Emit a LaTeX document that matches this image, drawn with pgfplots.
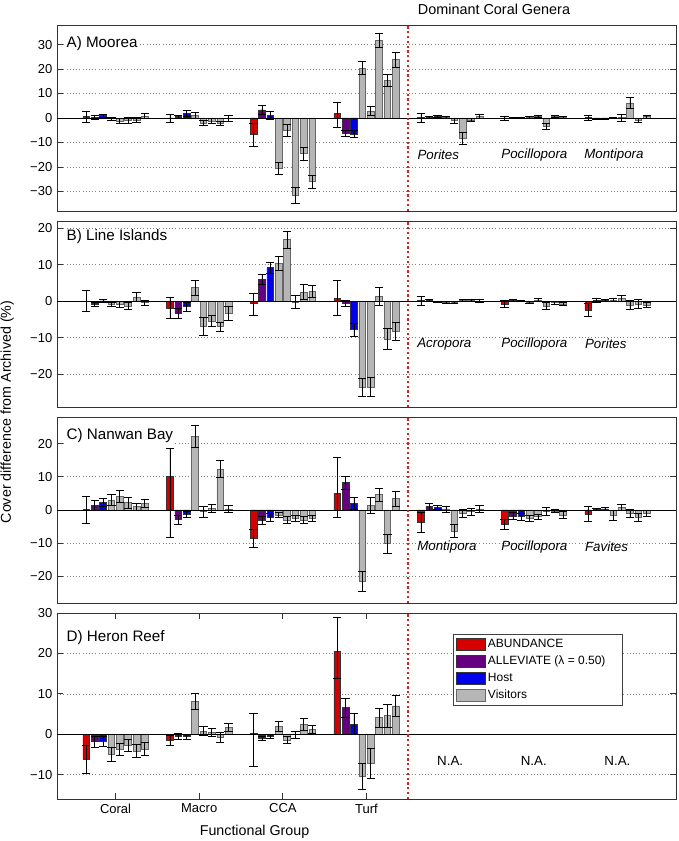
\documentclass[border=0pt]{standalone}
\usepackage{pgfplots}
\pgfplotsset{compat=1.18}
\usepackage{pgfplotstable}
\usepackage{fontspec}
\setmainfont{Liberation Sans}
\definecolor{cAb}{RGB}{215,0,0}
\definecolor{cAl}{RGB}{102,0,128}
\definecolor{cHo}{RGB}{0,0,235}
\definecolor{cVi}{RGB}{182,182,182}
\definecolor{cLine}{RGB}{220,30,30}

% columns: g = group (1 Coral, 2 Macro, 3 CCA, 4 Turf, 5-7 coral genera)
% v1..v8 = ABUNDANCE, ALLEVIATE, Host, Visitors x5 ; p = error plus, m = error minus
\pgfplotstableread{
g v1 p1 m1 v2 p2 m2 v3 p3 m3 v4 p4 m4 v5 p5 m5 v6 p6 m6 v7 p7 m7 v8 p8 m8
1 0.5 2.4 2.4 0.3 0.8 0.8 1.0 0.6 0.6 -0.3 0.7 0.7 -1.3 1.0 1.0 -0.8 1.2 1.2 -0.9 1.0 1.0 0.9 1.0 1.0
2 -0.1 1.6 1.6 0.5 0.6 0.6 1.8 1.2 1.2 1.2 1.2 1.2 -2.0 1.0 1.0 -1.2 0.9 0.9 -2.1 0.9 0.9 0.0 1.2 1.2
3 -6.5 4.2 4.9 3.3 1.8 1.8 1.0 1.6 1.6 -20.5 2.5 2.5 -5.0 2.4 2.4 -31.5 3.2 3.2 -14.5 2.6 2.6 -26.0 2.7 2.7
4 1.8 4.7 5.5 -6.2 1.2 1.2 -6.5 1.3 1.3 20.4 2.7 2.7 2.9 1.8 1.8 31.7 3.0 3.0 15.4 2.6 2.6 23.8 3.2 3.2
5 0.2 1.8 1.8 0.3 0.4 0.4 0.5 0.4 0.4 0.3 0.5 0.5 -1.0 1.0 1.0 -8.3 2.6 2.6 -0.8 0.6 0.6 0.6 0.7 0.7
6 -0.1 0.7 0.7 0.1 0.2 0.2 0.2 0.2 0.2 0.3 0.3 0.3 0.7 0.5 0.5 -3.5 1.2 1.2 0.5 0.4 0.4 0.2 0.3 0.3
7 0.1 0.9 0.9 -0.3 0.2 0.2 -0.2 0.2 0.2 -0.1 0.2 0.2 0.2 1.4 1.4 6.2 2.4 2.4 -1.0 0.9 0.9 0.5 0.7 0.7
}\tA
\pgfplotstableread{
g v1 p1 m1 v2 p2 m2 v3 p3 m3 v4 p4 m4 v5 p5 m5 v6 p6 m6 v7 p7 m7 v8 p8 m8
1 0.0 2.9 2.9 -0.8 0.6 0.6 0.1 0.3 0.3 -0.8 0.6 0.6 -0.8 0.8 0.8 -1.3 0.9 0.9 1.2 1.2 1.2 -0.4 0.6 0.6
2 -1.8 2.8 2.8 -3.3 1.3 1.3 -1.5 1.2 1.2 3.7 2.0 2.0 -6.8 2.5 2.5 -5.4 1.4 1.4 -7.0 1.3 1.3 -3.3 2.0 2.0
3 -0.5 2.6 3.3 6.0 1.4 1.4 9.2 1.5 1.5 10.3 1.9 1.9 16.9 2.4 2.4 -0.2 1.8 1.8 2.5 2.0 2.0 2.8 1.6 1.6
4 0.7 4.9 4.5 -0.5 0.8 0.8 -7.8 1.8 1.8 -23.7 2.5 2.5 -23.5 2.5 2.5 1.3 2.5 2.5 -10.3 2.8 2.8 -8.2 2.4 2.4
5 0.2 1.2 1.2 0.2 0.3 0.3 -0.2 0.2 0.2 -0.3 0.2 0.2 -0.3 0.2 0.2 0.2 0.3 0.3 0.2 0.3 0.3 0.1 0.3 0.3
6 -0.7 1.0 1.0 0.2 0.2 0.2 0.1 0.2 0.2 -0.3 0.3 0.3 0.3 0.4 0.4 -1.3 1.0 1.0 -0.4 0.5 0.5 -0.7 0.5 0.5
7 -2.4 1.7 1.7 0.2 0.5 0.5 0.3 0.3 0.3 0.4 0.4 0.4 0.8 0.8 0.8 -1.0 1.2 1.2 -0.8 1.2 1.2 -1.0 0.8 0.8
}\tB
\pgfplotstableread{
g v1 p1 m1 v2 p2 m2 v3 p3 m3 v4 p4 m4 v5 p5 m5 v6 p6 m6 v7 p7 m7 v8 p8 m8
1 0.1 4.1 4.1 1.5 1.5 1.5 2.2 1.2 1.2 3.0 1.7 1.7 4.0 1.8 1.8 2.2 1.7 1.7 1.0 1.0 1.0 2.0 1.1 1.1
2 10.2 8.3 18.5 -2.9 1.4 1.4 -1.3 0.9 0.9 22.2 3.2 3.2 -0.5 1.6 1.6 0.6 1.2 1.2 12.4 2.5 2.5 0.3 1.0 1.0
3 -8.5 2.8 2.8 -3.0 1.2 1.2 -2.2 1.2 1.2 -1.5 0.8 0.8 -3.0 1.0 1.0 -2.5 0.8 0.8 -3.0 1.0 1.0 -2.5 0.8 0.8
4 5.0 10.8 7.2 8.2 1.9 1.9 2.0 1.8 1.8 -21.5 3.0 3.0 1.4 2.3 2.3 4.6 2.0 2.0 -10.1 2.9 2.9 3.4 2.2 2.2
5 -3.7 3.0 3.0 1.0 1.0 1.0 0.8 0.7 0.7 0.3 0.9 0.9 -6.3 2.0 2.0 -1.0 1.2 1.2 -0.5 1.0 1.0 0.3 1.0 1.0
6 -4.3 1.4 1.4 -1.8 1.0 1.0 -2.0 1.0 1.0 -2.5 0.8 0.8 -2.0 0.8 0.8 -0.3 1.2 1.2 -0.3 0.4 0.4 -1.5 1.0 1.0
7 -1.2 2.2 2.2 0.2 0.3 0.3 0.3 0.4 0.4 -1.5 1.5 1.5 0.7 0.9 0.9 -1.0 1.2 1.2 -2.2 1.2 1.2 -1.0 0.8 0.8
}\tC
\pgfplotstableread{
g v1 p1 m1 v2 p2 m2 v3 p3 m3 v4 p4 m4 v5 p5 m5 v6 p6 m6 v7 p7 m7 v8 p8 m8
1 -6.2 3.5 3.5 -1.8 1.4 1.4 -1.7 1.2 1.2 -5.0 1.8 1.8 -3.8 1.5 1.5 -2.8 1.5 1.5 -4.2 1.6 1.6 -3.6 1.5 1.5
2 -1.5 1.3 1.3 -0.5 0.7 0.7 -0.6 0.7 0.7 8.2 2.0 2.0 0.8 1.1 1.1 0.5 0.9 0.9 -0.8 1.2 1.2 1.7 1.0 1.0
3 0.3 4.9 8.3 -1.0 0.6 0.6 -0.5 0.6 0.6 1.9 1.2 1.2 -1.4 0.8 0.8 -0.1 0.9 0.9 2.5 1.4 1.4 1.2 1.0 1.0
4 20.6 8.4 6.8 6.6 2.4 2.4 2.5 2.6 2.6 -10.4 3.3 3.3 -7.2 3.7 3.7 4.1 2.4 2.4 4.6 2.8 2.8 7.0 2.6 2.6
5 0 0 0 0 0 0 0 0 0 0 0 0 0 0 0 0 0 0 0 0 0 0 0 0
6 0 0 0 0 0 0 0 0 0 0 0 0 0 0 0 0 0 0 0 0 0 0 0 0
7 0 0 0 0 0 0 0 0 0 0 0 0 0 0 0 0 0 0 0 0 0 0 0 0
}\tD

\pgfplotsset{
  panel/.style={
    scale only axis, width=464.25pt, height=139.5pt,
    anchor=south west,
    xmin=0.3, xmax=7.7, xtick=\empty,
    tick align=inside, major tick length=4.5pt,
    ymajorgrids, grid style={dotted, black!50, line width=0.5pt},
    axis line style={black!80, line width=0.6pt},
    every tick/.style={black!80, line width=0.6pt},
    ticklabel style={font=\fontsize{9.75}{11}\selectfont},
    /pgf/number format/assume math mode=true,
  },
  bb/.style={ybar, bar width=0.08, bar shift=0pt, draw=black!80, line width=0.4pt, fill=#1,
    area legend,
    legend image code/.code={\draw[##1] (0pt,-4.5pt) rectangle (21.75pt,4.5pt);},
    error bars/y dir=both, error bars/y explicit,
    error bars/error bar style={black, line width=0.5pt},
    error bars/error mark options={black, line width=0.5pt, mark size=3.1pt, rotate=90}},
}
\newcommand\bars[1]{%
  \addplot[bb=cAb] table[x expr=\thisrow{g}-0.35,y=v1,y error plus=p1,y error minus=m1]{#1};
  \addplot[bb=cAl] table[x expr=\thisrow{g}-0.25,y=v2,y error plus=p2,y error minus=m2]{#1};
  \addplot[bb=cHo] table[x expr=\thisrow{g}-0.15,y=v3,y error plus=p3,y error minus=m3]{#1};
  \addplot[bb=cVi, draw=black!60] table[x expr=\thisrow{g}-0.05,y=v4,y error plus=p4,y error minus=m4]{#1};
  \addplot[bb=cVi, draw=black!60] table[x expr=\thisrow{g}+0.05,y=v5,y error plus=p5,y error minus=m5]{#1};
  \addplot[bb=cVi, draw=black!60] table[x expr=\thisrow{g}+0.15,y=v6,y error plus=p6,y error minus=m6]{#1};
  \addplot[bb=cVi, draw=black!60] table[x expr=\thisrow{g}+0.25,y=v7,y error plus=p7,y error minus=m7]{#1};
  \addplot[bb=cVi, draw=black!60] table[x expr=\thisrow{g}+0.35,y=v8,y error plus=p8,y error minus=m8]{#1};
}
\newcommand\guides[2]{%
  \draw[black, line width=0.6pt] (axis cs:0.3,0) -- (axis cs:7.7,0);
  \draw[cLine, dotted, line width=1.6pt] (axis cs:4.5,#1) -- (axis cs:4.5,#2);
}
\newcommand\plab[2]{\node[anchor=west, fill=white, inner sep=1pt, font=\fontsize{11.4}{13}\selectfont] at (rel axis cs:0.013,#1) {#2};}
\newcommand\glab[3]{\node[anchor=west, inner sep=0pt, font=\fontsize{10}{12}\selectfont\itshape] at (axis cs:#1,#2) {#3};}
\newcommand\lgbox[1]{\makebox[97pt][l]{#1}}

\begin{document}
\begin{tikzpicture}
\path[use as bounding box] (0,0) rectangle (508.5pt,630.75pt);

% A) Moorea
\begin{axis}[panel, at={(42.75pt,472.5pt)}, ymin=-38, ymax=38,
  ytick={-30,-20,-10,0,10,20,30}, yticklabels={−30,−20,−10,0,10,20,30}]
\bars{\tA}
\guides{-38}{38}
\plab{0.898}{A) Moorea}
\glab{4.607}{-15.2}{Porites}
\glab{5.61}{-15.2}{Pocillopora}
\glab{6.60}{-15.2}{Montipora}
\end{axis}

% B) Line Islands
\begin{axis}[panel, at={(42.75pt,325.5pt)}, ymin=-29, ymax=22,
  ytick={-20,-10,0,10,20}, yticklabels={−20,−10,0,10,20}]
\bars{\tB}
\guides{-29}{22}
\plab{0.914}{B) Line Islands}
\glab{4.604}{-11.7}{Acropora}
\glab{5.61}{-11.7}{Pocillopora}
\glab{6.61}{-11.7}{Porites}
\end{axis}

% C) Nanwan Bay
\begin{axis}[panel, at={(42.75pt,178.5pt)}, ymin=-28, ymax=28,
  ytick={-20,-10,0,10,20}, yticklabels={−20,−10,0,10,20}]
\bars{\tC}
\guides{-28}{28}
\plab{0.898}{C) Nanwan Bay}
\glab{4.604}{-11.2}{Montipora}
\glab{5.61}{-11.2}{Pocillopora}
\glab{6.61}{-11.2}{Favites}
\end{axis}

% D) Heron Reef
\begin{axis}[panel, at={(42.75pt,31.5pt)}, ymin=-16, ymax=30,
  ytick={-10,0,10,20,30}, yticklabels={−10,0,10,20,30},
  xtick={1,2,3,4}, xticklabels={Coral,Macro,CCA,Turf},
  legend cell align=left,
  legend style={at={(0.6397,0.887)}, anchor=north west, draw=black!75, line width=0.6pt,
    fill=white, font=\fontsize{9}{10.5}\selectfont, inner sep=1.8pt,
    row sep=0.8pt, /tikz/every even column/.append style={column sep=1pt}}]
\bars{\tD}
\guides{-16}{30}
\legend{\lgbox{ABUNDANCE}, \lgbox{ALLEVIATE (λ = 0.50)}, \lgbox{Host}, \lgbox{Visitors}}
\plab{0.866}{D) Heron Reef}
\node[inner sep=0pt, font=\fontsize{10}{12}\selectfont] at (axis cs:5.0,-6.7) {N.A.};
\node[inner sep=0pt, font=\fontsize{10}{12}\selectfont] at (axis cs:6.0,-6.7) {N.A.};
\node[inner sep=0pt, font=\fontsize{10}{12}\selectfont] at (axis cs:7.0,-6.7) {N.A.};
\end{axis}

\node[font=\fontsize{10.8}{12}\selectfont] at (370.5pt,624pt) {Dominant Coral Genera};
\node[font=\fontsize{10.7}{12}\selectfont] at (190.9pt,6.75pt) {Functional Group};
\node[rotate=90, font=\fontsize{10.7}{12}\selectfont] at (5.4pt,321.75pt) {Cover difference from Archived (\%)};
\end{tikzpicture}
\end{document}
